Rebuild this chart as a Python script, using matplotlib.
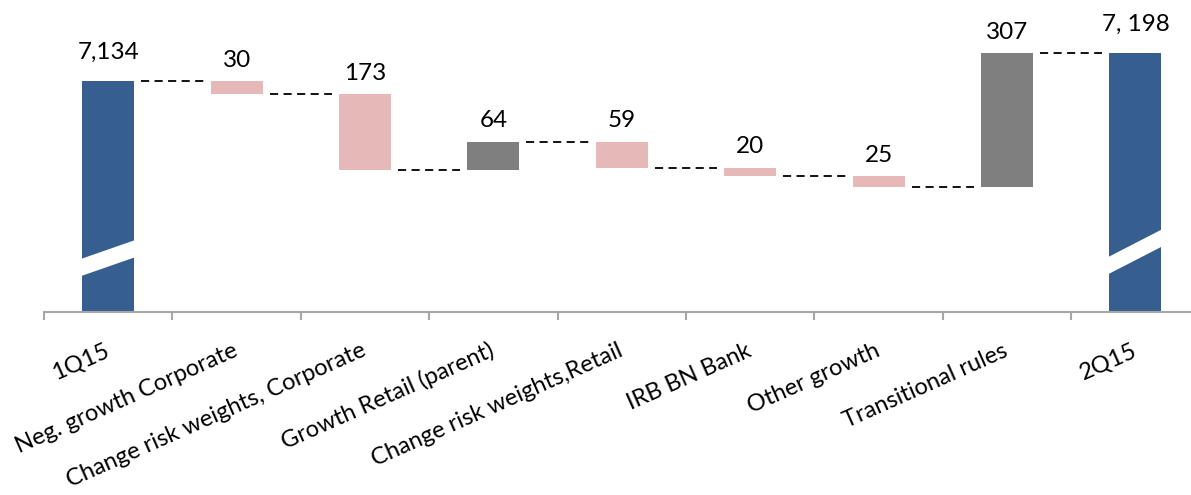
import matplotlib
matplotlib.use('agg')
import matplotlib.pyplot as plt
import matplotlib.transforms as mtransforms
import numpy as np

plt.rcParams['font.family'] = ['Lato', 'DejaVu Sans']

# data
categories = ['1Q15', 'Neg. growth Corporate', 'Change risk weights, Corporate',
              'Growth Retail (parent)', 'Change risk weights,Retail', 'IRB BN Bank',
              'Other growth', 'Transitional rules', '2Q15']
start_total = 7134
changes = [-30, -173, 64, -59, -20, -25, 307]
end_total = 7198
value_labels = ['7,134', '30', '173', '64', '59', '20', '25', '307', '7, 198']

BLUE = '#365f8f'
PINK = '#e6b8b7'
GREY = '#7f7f7f'
WIDTH = 0.405

fig = plt.figure(figsize=(11.91, 4.95), dpi=100)
W, H = 1191, 495
ax = fig.add_axes([44 / W, (H - 312) / H, (9 * 128.4) / W, 312 / H])

# build waterfall
bottoms, heights, colors = [], [], []
level = start_total
ymin = 6605
bottoms.append(ymin); heights.append(start_total - ymin); colors.append(BLUE)
levels = [level]
for c in changes:
    new = level + c
    bottoms.append(min(level, new))
    heights.append(abs(c))
    colors.append(GREY if c > 0 else PINK)
    level = new
    levels.append(level)
bottoms.append(ymin); heights.append(end_total - ymin); colors.append(BLUE)
levels.append(end_total)

x = np.arange(len(categories))
ax.bar(x, heights, bottom=bottoms, width=WIDTH, color=colors, linewidth=0, zorder=2)

# connectors
gap = 0.055
for i in range(len(categories) - 1):
    ax.plot([x[i] + WIDTH / 2 + gap, x[i + 1] - WIDTH / 2 - gap],
            [levels[i], levels[i]], color='black', lw=1.3,
            linestyle=(0, (4.5, 3)), zorder=1)

# axis break stripes on total bars (x in data, y in axes fraction)
trans = mtransforms.blended_transform_factory(ax.transData, ax.transAxes)
for xi, (yl, yr) in [(x[0], (0.170, 0.231)), (x[-1], (0.176, 0.266))]:
    t = 0.055
    xs = [xi - WIDTH / 2 - 0.01, xi + WIDTH / 2 + 0.01, xi + WIDTH / 2 + 0.01, xi - WIDTH / 2 - 0.01]
    ys = [yl, yr, yr - t, yl - t]
    ax.fill(xs, ys, color='white', transform=trans, zorder=3, lw=0)

# value labels
for i, lab in enumerate(value_labels):
    top = bottoms[i] + heights[i]
    off = 13 if i in (0, len(categories) - 1) else 7.5
    ax.annotate(lab, (x[i], top), xytext=(0, off), textcoords='offset points',
                ha='center', va='bottom', fontsize=17.5, color='black')

ax.set_xlim(-0.5, 8.5)
ax.set_ylim(ymin, 7320)
for s in ['top', 'right', 'left']:
    ax.spines[s].set_visible(False)
ax.spines['bottom'].set_color('#a6a6a6')
ax.spines['bottom'].set_linewidth(1.5)
ax.set_yticks([])
ax.set_xticks(np.arange(-0.5, 9, 1))
ax.set_xticklabels([])
ax.tick_params(axis='x', direction='out', length=6, width=1.5, color='#a6a6a6')
ax.set_xticks(x, minor=True)
ax.set_xticklabels(categories, minor=True, rotation=24, ha='right',
                   va='center', rotation_mode='anchor', fontsize=17)
ax.tick_params(axis='x', which='minor', length=0, pad=27)

fig.savefig('out.png', dpi=100)
